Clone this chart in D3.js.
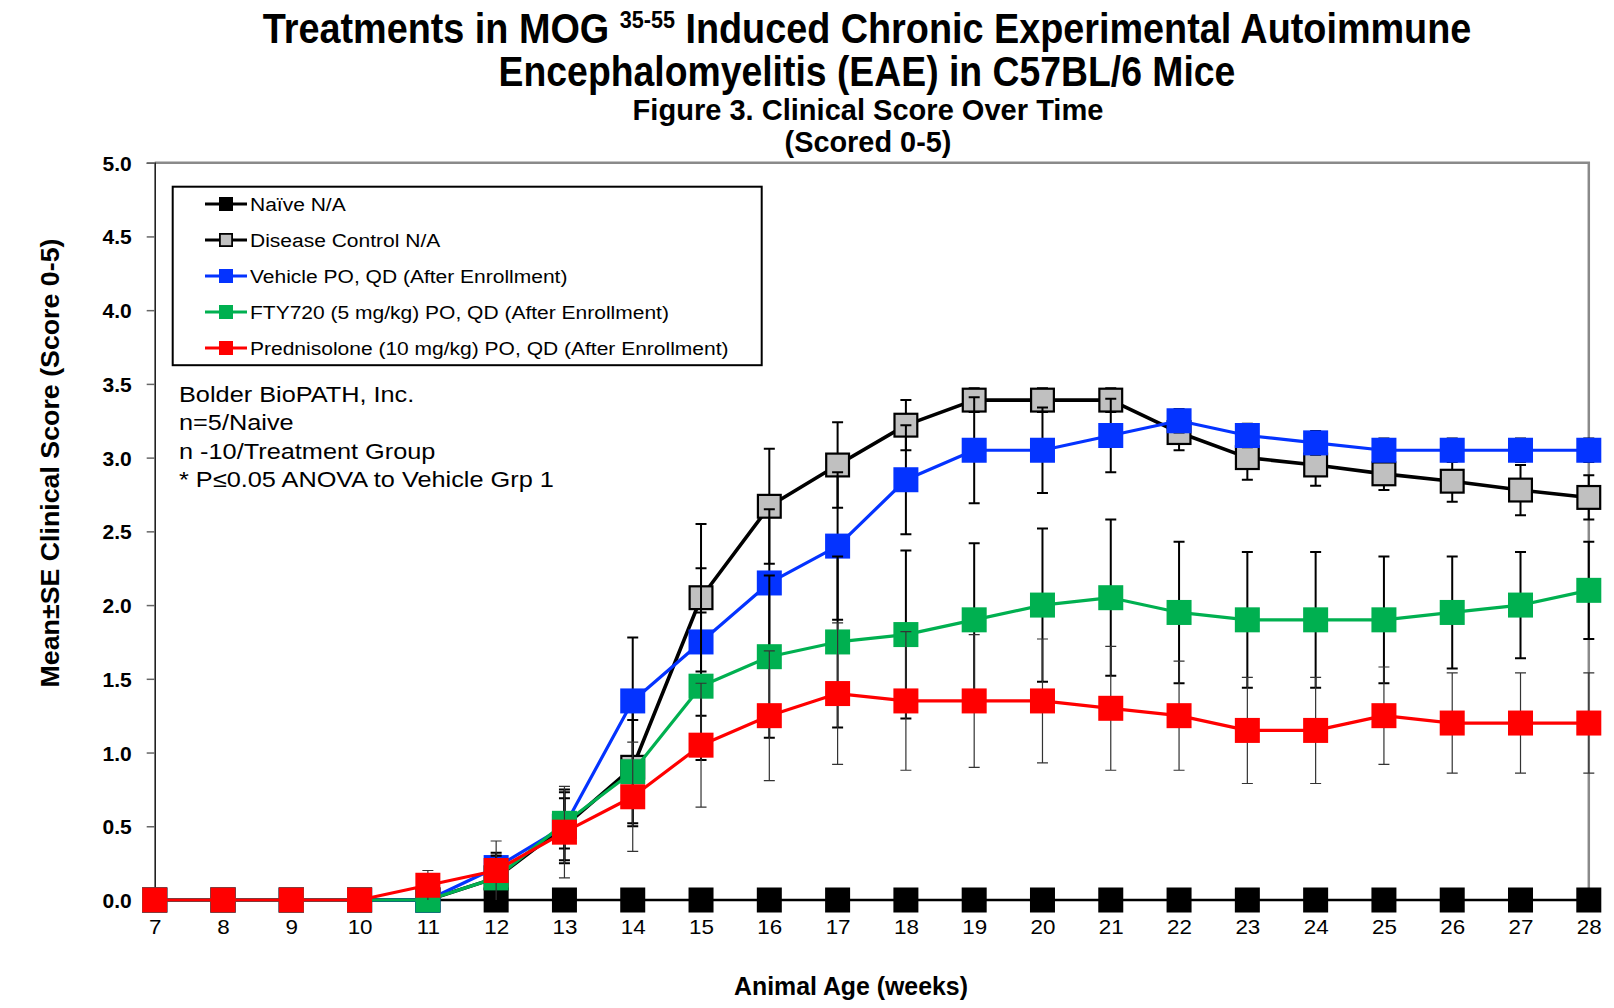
<!DOCTYPE html>
<html>
<head>
<meta charset="utf-8">
<script src="https://cdn.jsdelivr.net/npm/d3@7"></script>
<style>
  html, body { margin: 0; padding: 0; background: #fff; }
  svg { display: block; }
  text { font-family: "Liberation Sans", Arial, sans-serif; fill: #000; }
</style>
</head>
<body>
<svg id="chart" width="1614" height="1008"></svg>
<script>
// ---------------- DATA ----------------
const weeks = [7,8,9,10,11,12,13,14,15,16,17,18,19,20,21,22,23,24,25,26,27,28];
const yTicks = [0,0.5,1,1.5,2,2.5,3,3.5,4,4.5,5];

const naive      = [0,0,0,0,0,0,0,0,0,0,0,0,0,0,0,0,0,0,0,0,0,0];
const naiveSE    = [0,0,0,0,0,0,0,0,0,0,0,0,0,0,0,0,0,0,0,0,0,0];
const disease    = [0,0,0,0,0,0.15,0.5,0.9,2.05,2.67,2.95,3.22,3.39,3.39,3.39,3.17,3.0,2.95,2.89,2.84,2.78,2.73];
const diseaseSE  = [0,0,0,0,0,0.15,0.23,0.4,0.5,0.39,0.29,0.17,0.08,0.08,0.08,0.12,0.15,0.14,0.11,0.14,0.17,0.15];
const vehicle    = [0,0,0,0,0,0.22,0.5,1.35,1.75,2.15,2.4,2.85,3.05,3.05,3.15,3.25,3.15,3.1,3.05,3.05,3.05,3.05];
const vehicleSE  = [0,0,0,0,0,0.1,0.25,0.43,0.5,0.5,0.5,0.37,0.36,0.29,0.25,0.08,0.08,0.08,0.08,0.08,0.08,0.08];
const fty720     = [0,0,0,0,0,0.15,0.52,0.87,1.45,1.65,1.75,1.8,1.9,2.0,2.05,1.95,1.9,1.9,1.9,1.95,2.0,2.1];
const fty720SE   = [0,0,0,0,0,0.15,0.17,0.35,0.5,0.55,0.58,0.57,0.52,0.52,0.53,0.48,0.46,0.46,0.43,0.38,0.36,0.33];
const pred       = [0,0,0,0,0.1,0.2,0.46,0.7,1.05,1.25,1.4,1.35,1.35,1.35,1.3,1.25,1.15,1.15,1.25,1.2,1.2,1.2];
const predSE     = [0,0,0,0,0.1,0.2,0.31,0.37,0.42,0.44,0.48,0.47,0.45,0.42,0.42,0.37,0.36,0.36,0.33,0.34,0.34,0.34];

const seriesNames = [
  "Naïve N/A",
  "Disease Control N/A",
  "Vehicle PO, QD (After Enrollment)",
  "FTY720 (5 mg/kg) PO, QD (After Enrollment)",
  "Prednisolone (10 mg/kg) PO, QD (After Enrollment)"
];
const notes = [
  "Bolder BioPATH, Inc.",
  "n=5/Naive",
  "n -10/Treatment Group",
  "* P≤0.05 ANOVA to Vehicle Grp 1"
];

// ---------------- STYLE ----------------
const series = [
  {name: seriesNames[0], vals: naive,   se: naiveSE,   line: "#000", fill: "#000",    stroke: null,   lw: 2.6, ebw: 2,   ebc: "#000"},
  {name: seriesNames[1], vals: disease, se: diseaseSE, line: "#000", fill: "#c0c0c0", stroke: "#000", lw: 3.6, ebw: 2,   ebc: "#000"},
  {name: seriesNames[2], vals: vehicle, se: vehicleSE, line: "#0433ff", fill: "#0433ff", stroke: null, lw: 3.2, ebw: 2, ebc: "#000"},
  {name: seriesNames[3], vals: fty720,  se: fty720SE,  line: "#00b050", fill: "#00b050", stroke: null, lw: 3.2, ebw: 2, ebc: "#000"},
  {name: seriesNames[4], vals: pred,    se: predSE,    line: "#ff0000", fill: "#ff0000", stroke: null, lw: 3.2, ebw: 1.2, ebc: "#333"}
];

const svg = d3.select("#chart");
const L = 154.7, R = 1588.8, T = 162.7, B = 900;
const x = d3.scaleLinear().domain([7, 28]).range([L, R]);
const y = d3.scaleLinear().domain([0, 5]).range([B, T]);

// helper: text fitted to a target width
function fitText(parent, str, cx, by, fs, weight, targetW, anchor, rotate) {
  const g = parent.append("g");
  const t = g.append("text").attr("font-size", fs).attr("font-weight", weight)
    .attr("text-anchor", anchor || "middle").text(str);
  const w = t.node().getComputedTextLength();
  const s = targetW ? targetW / w : 1;
  g.attr("transform", `translate(${cx},${by})` + (rotate ? ` rotate(${rotate})` : "") + ` scale(${s},1)`);
  return g;
}

// ---------------- TITLES ----------------
{
  const g = svg.append("g");
  const t = g.append("text").attr("font-size", 42).attr("font-weight", "bold").attr("text-anchor", "middle");
  t.append("tspan").text("Treatments in MOG ");
  t.append("tspan").attr("font-size", 24).attr("dy", -15).text("35-55");
  t.append("tspan").attr("dy", 15).text(" Induced Chronic Experimental Autoimmune");
  const w = t.node().getBBox().width;
  g.attr("transform", `translate(867,43) scale(${1209 / w},1)`);
}
fitText(svg, "Encephalomyelitis (EAE) in C57BL/6 Mice", 867, 86, 42, "bold", 737);
fitText(svg, "Figure 3. Clinical Score Over Time", 868, 120, 29, "bold", 471);
fitText(svg, "(Scored 0-5)", 868, 152, 29, "bold", 167);
fitText(svg, "Animal Age (weeks)", 851, 995, 26, "bold", 234);
fitText(svg, "Mean±SE Clinical Score (Score 0-5)", 59, 463, 26, "bold", 449, "middle", -90);

// ---------------- FRAME / AXES ----------------
svg.append("path")
  .attr("d", `M${L},${T}H${R}V${B}`)
  .attr("fill", "none").attr("stroke", "#8a8a8a").attr("stroke-width", 2.5);

const yAxis = d3.axisLeft(y).tickValues(yTicks).tickSize(8).tickFormat(d3.format(".1f"));
const ya = svg.append("g").attr("transform", `translate(${L},0)`).call(yAxis);
ya.select(".domain").attr("stroke", "#222").attr("stroke-width", 1.6);
ya.selectAll(".tick line").attr("stroke", "#666").attr("stroke-width", 1.5);
ya.selectAll(".tick text")
  .attr("font-family", "Liberation Sans, Arial, sans-serif")
  .attr("font-size", 21).attr("font-weight", "bold").attr("fill", "#000")
  .attr("x", -23).attr("dy", "0.36em");

const xAxis = d3.axisBottom(x).tickValues(weeks).tickSize(0).tickFormat(d3.format("d"));
const xa = svg.append("g").attr("transform", `translate(0,${B})`).call(xAxis);
xa.select(".domain").remove();
xa.selectAll(".tick text")
  .attr("font-family", "Liberation Sans, Arial, sans-serif")
  .attr("font-size", 20).attr("fill", "#000")
  .attr("y", 34).attr("dy", 0)
  .attr("transform", "scale(1.12,1)")
  .attr("x", 0);

// ---------------- SERIES ----------------
const ms = 25, cap = 11;
const lineGen = d3.line().x((d, i) => x(weeks[i])).y(d => y(d));
const plot = svg.append("g");
series.forEach(s => {
  const g = plot.append("g");
  // error bars
  const eb = g.append("g").attr("stroke", s.ebc).attr("stroke-width", s.ebw).attr("fill", "none");
  s.vals.forEach((v, i) => {
    const e = s.se[i];
    if (!e) return;
    const cx = x(weeks[i]), y1 = y(v + e), y0 = y(Math.max(0, v - e));
    eb.append("path").attr("d", `M${cx},${y1}V${y0}M${cx - cap / 2},${y1}H${cx + cap / 2}` + (v - e > 0 ? `M${cx - cap / 2},${y0}H${cx + cap / 2}` : ""));
  });
  // line
  g.append("path").attr("d", lineGen(s.vals)).attr("fill", "none")
    .attr("stroke", s.line).attr("stroke-width", s.lw).attr("stroke-linejoin", "round");
  // markers
  const sw = s.stroke ? 2.2 : 0;
  g.selectAll("rect.m").data(s.vals).enter().append("rect")
    .attr("x", (d, i) => x(weeks[i]) - ms / 2 + sw / 2)
    .attr("y", d => y(d) - ms / 2 + sw / 2)
    .attr("width", ms - sw).attr("height", ms - sw)
    .attr("fill", s.fill)
    .attr("stroke", s.stroke || "none").attr("stroke-width", sw);
});

// ---------------- LEGEND ----------------
const lg = svg.append("g");
lg.append("rect").attr("x", 172.7).attr("y", 186.7).attr("width", 589).attr("height", 178.5)
  .attr("fill", "#fff").attr("stroke", "#000").attr("stroke-width", 2);
const legY = d3.scalePoint().domain(seriesNames).range([204, 348]);
let legScale = 1;
{
  const probe = lg.append("text").attr("font-size", 19).text(seriesNames[4]);
  legScale = 479 / probe.node().getComputedTextLength();
  probe.remove();
}
series.forEach(s => {
  const cy = legY(s.name);
  lg.append("line").attr("x1", 205).attr("x2", 247).attr("y1", cy).attr("y2", cy)
    .attr("stroke", s.line).attr("stroke-width", 3.2);
  const sw = s.stroke ? 1.8 : 0, lm = 14;
  lg.append("rect").attr("x", 226 - lm / 2 + sw / 2).attr("y", cy - lm / 2 + sw / 2)
    .attr("width", lm - sw).attr("height", lm - sw)
    .attr("fill", s.fill).attr("stroke", s.stroke || "none").attr("stroke-width", sw);
  lg.append("text").attr("font-size", 19).attr("text-anchor", "start")
    .attr("transform", `translate(250,${cy + 6.8}) scale(${legScale},1)`)
    .text(s.name);
});

// ---------------- NOTES ----------------
{
  const probe = svg.append("text").attr("font-size", 22).text(notes[3]);
  const ns = 375 / probe.node().getComputedTextLength();
  probe.remove();
  const noteY = d3.scalePoint().domain(notes).range([402, 487]);
  notes.forEach(n => {
    svg.append("text").attr("font-size", 22).attr("text-anchor", "start")
      .attr("transform", `translate(179,${noteY(n)}) scale(${ns},1)`).text(n);
  });
}
</script>
</body>
</html>
